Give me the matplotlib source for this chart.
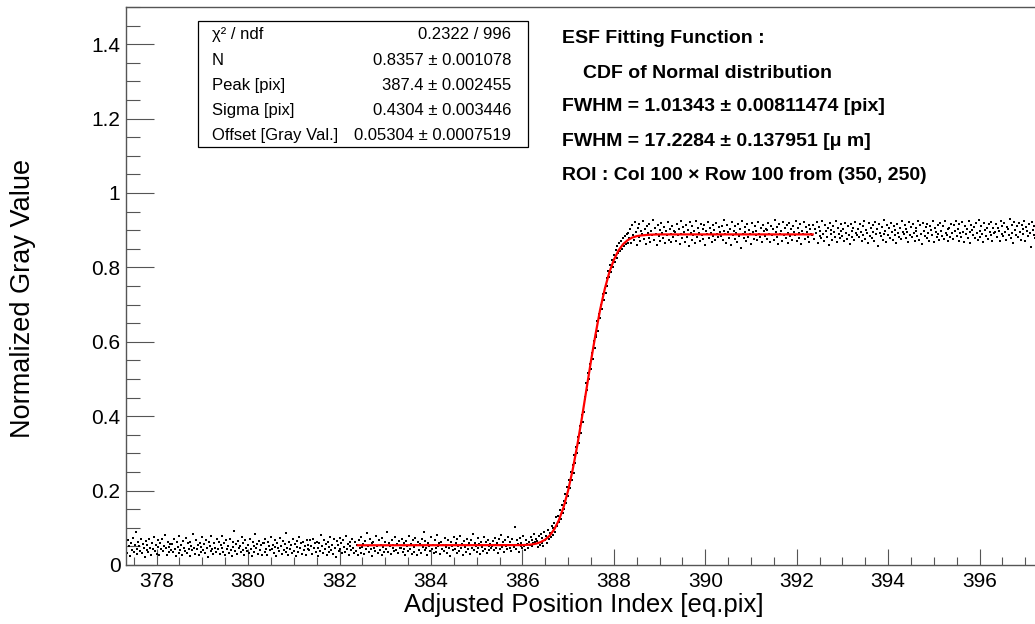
import numpy as np
import matplotlib
matplotlib.use("Agg")
import matplotlib.pyplot as plt
from matplotlib.patches import Rectangle
from matplotlib.ticker import MultipleLocator

plt.rcParams["font.family"] = ["Liberation Sans", "DejaVu Sans"]

# ==============================
# data
# ==============================
# ESF samples: one row per pixel unit, gray values in thousandths,
# sampled every 0.02 eq.pix starting at 377.34
pos_first = 377.34
pos_step = 0.02
gray_milli = [
    [48, 31, 67, 52, 24, 58, 41, 73, 36, 55, 88, 44, 29, 62, 50, 38, 71, 33, 57, 46, 22, 64, 40, 53, 35, 69, 47, 27, 60, 43, 76, 38, 55, 30, 66, 49, 26, 59, 42, 71, 37, 52, 81, 45, 28, 63, 48, 34, 57, 41],
    [56, 36, 70, 43, 25, 61, 49, 33, 78, 40, 54, 28, 65, 47, 37, 72, 31, 58, 44, 23, 63, 51, 39, 84, 46, 30, 68, 42, 55, 26, 60, 48, 35, 74, 39, 57, 32, 66, 45, 22, 62, 50, 38, 77, 43, 29, 59, 47, 34, 69],
    [42, 63, 30, 55, 47, 79, 36, 58, 27, 66, 44, 52, 33, 71, 40, 25, 61, 48, 92, 37, 56, 29, 64, 45, 51, 34, 74, 41, 59, 28, 67, 46, 38, 55, 31, 70, 43, 24, 62, 50, 36, 83, 47, 57, 30, 65, 41, 53, 26, 60],
    [58, 35, 69, 44, 28, 62, 50, 39, 76, 42, 55, 31, 67, 48, 23, 60, 45, 37, 73, 52, 29, 64, 41, 56, 34, 86, 47, 27, 61, 43, 53, 32, 70, 38, 57, 25, 65, 49, 36, 74, 46, 58, 30, 63, 40, 51, 27, 68, 44, 55],
    [40, 66, 52, 29, 71, 45, 58, 34, 63, 47, 24, 60, 38, 80, 51, 33, 67, 43, 56, 28, 62, 49, 36, 75, 41, 54, 30, 69, 46, 22, 64, 53, 37, 72, 44, 59, 31, 66, 48, 35, 78, 42, 57, 26, 61, 50, 39, 70, 45, 33],
    [61, 38, 54, 27, 68, 46, 33, 75, 49, 57, 30, 64, 42, 86, 51, 35, 70, 44, 59, 25, 63, 47, 38, 77, 52, 31, 66, 40, 55, 28, 72, 48, 36, 61, 43, 90, 34, 58, 50, 29, 67, 45, 53, 37, 74, 41, 56, 32, 65, 47],
    [46, 70, 35, 59, 43, 27, 65, 51, 38, 79, 44, 56, 30, 68, 48, 36, 73, 53, 26, 62, 41, 57, 33, 71, 49, 90, 39, 64, 45, 28, 60, 52, 37, 76, 43, 55, 31, 67, 47, 34, 81, 50, 58, 29, 63, 44, 53, 38, 72, 49],
    [55, 33, 67, 47, 25, 62, 52, 40, 74, 44, 59, 31, 69, 50, 37, 78, 45, 57, 28, 64, 48, 35, 71, 53, 42, 60, 30, 66, 46, 83, 39, 58, 51, 34, 73, 47, 56, 29, 63, 49, 38, 76, 43, 61, 32, 68, 52, 41, 57, 45],
    [50, 64, 39, 72, 47, 58, 33, 69, 53, 44, 80, 48, 61, 36, 66, 51, 42, 75, 55, 46, 62, 38, 70, 54, 49, 101, 43, 67, 57, 35, 73, 50, 60, 45, 78, 52, 41, 68, 56, 47, 63, 55, 74, 50, 66, 59, 84, 61, 70, 64],
    [48, 78, 55, 84, 60, 73, 51, 88, 66, 79, 58, 95, 70, 86, 74, 104, 81, 99, 112, 90, 128, 104, 133, 115, 147, 124, 160, 139, 172, 151, 190, 168, 210, 186, 228, 207, 251, 229, 270, 248, 296, 273, 318, 301, 345, 329, 373, 356, 402, 385],
    [411, 452, 447, 489, 470, 515, 499, 541, 526, 570, 553, 601, 584, 618, 612, 655, 630, 676, 664, 700, 689, 728, 712, 745, 731, 772, 751, 790, 774, 806, 788, 819, 801, 833, 814, 846, 826, 857, 838, 865, 843, 871, 850, 879, 857, 884, 862, 889, 866, 892],
    [879, 902, 866, 913, 888, 874, 921, 895, 860, 907, 883, 918, 870, 897, 889, 925, 876, 904, 863, 911, 892, 880, 916, 868, 899, 886, 928, 873, 905, 891, 861, 914, 884, 900, 871, 920, 893, 878, 909, 865, 897, 887, 923, 875, 903, 890, 868, 912, 881, 899],
    [895, 871, 917, 886, 903, 862, 924, 890, 878, 909, 896, 869, 915, 883, 901, 857, 921, 892, 874, 911, 887, 899, 866, 926, 881, 905, 893, 870, 918, 886, 902, 876, 913, 860, 897, 889, 922, 879, 906, 892, 868, 915, 884, 900, 873, 919, 891, 883, 908, 895],
    [884, 910, 873, 899, 927, 889, 866, 915, 894, 880, 904, 861, 921, 887, 898, 876, 912, 893, 869, 918, 885, 903, 852, 925, 890, 878, 909, 896, 870, 916, 882, 901, 889, 864, 920, 894, 877, 911, 886, 899, 873, 923, 891, 881, 907, 867, 914, 897, 885, 902],
    [900, 877, 919, 891, 868, 912, 886, 903, 874, 928, 894, 881, 908, 863, 917, 890, 899, 872, 922, 887, 905, 879, 914, 893, 866, 920, 884, 902, 875, 911, 896, 888, 925, 870, 906, 892, 880, 916, 863, 898, 889, 921, 876, 909, 895, 883, 913, 869, 902, 890],
    [887, 913, 876, 902, 893, 921, 866, 908, 884, 899, 878, 926, 891, 870, 915, 897, 882, 905, 860, 919, 889, 901, 874, 912, 895, 881, 924, 868, 907, 890, 879, 916, 898, 885, 903, 872, 920, 893, 877, 910, 888, 864, 918, 899, 883, 906, 875, 922, 892, 887],
    [903, 881, 916, 894, 870, 911, 887, 925, 876, 900, 892, 865, 919, 884, 906, 879, 913, 896, 871, 921, 889, 902, 858, 917, 893, 884, 909, 874, 927, 890, 899, 868, 914, 886, 905, 880, 920, 895, 873, 911, 888, 901, 866, 918, 892, 883, 907, 877, 924, 896],
    [890, 915, 878, 904, 896, 869, 922, 887, 909, 881, 917, 893, 872, 906, 899, 884, 926, 875, 913, 890, 862, 920, 897, 885, 908, 879, 918, 893, 870, 911, 901, 886, 924, 867, 906, 894, 881, 915, 889, 873, 919, 898, 884, 910, 876, 925, 892, 887, 903, 871],
    [906, 883, 918, 893, 877, 913, 899, 926, 885, 904, 871, 916, 892, 881, 921, 896, 868, 910, 889, 903, 878, 924, 894, 865, 915, 900, 886, 909, 880, 919, 892, 874, 927, 897, 883, 912, 889, 868, 920, 901, 885, 907, 876, 917, 895, 888, 923, 870, 905, 893],
    [894, 918, 881, 906, 899, 872, 925, 890, 911, 884, 920, 896, 875, 909, 902, 887, 929, 878, 915, 893, 865, 922, 900, 888, 910, 882, 919, 896, 873, 913, 904, 889, 926, 870, 908, 897, 884, 918, 892, 855, 921, 901, 887, 912, 879, 927, 895, 890, 906, 874],
]

# fitted ESF curve (red line)
fit_x = [382.4, 386.0, 386.1, 386.2, 386.3, 386.4, 386.5, 386.6, 386.7, 386.8, 386.9,
         387.0, 387.1, 387.2, 387.3, 387.4, 387.5, 387.6, 387.7, 387.8, 387.9,
         388.0, 388.1, 388.2, 388.3, 388.4, 388.5, 388.6, 388.8, 389.0, 392.35]
fit_y = [0.053, 0.0535, 0.0541, 0.0552, 0.0574, 0.0615, 0.0683, 0.0793, 0.0965, 0.121, 0.155,
         0.200, 0.256, 0.321, 0.394, 0.471, 0.548, 0.620, 0.686, 0.741, 0.786,
         0.820, 0.845, 0.862, 0.873, 0.880, 0.884, 0.886, 0.888, 0.8887, 0.8887]

stat_names = ["\u03c7\u00b2 / ndf", "N", "Peak [pix]", "Sigma [pix]", "Offset [Gray Val.]"]
stat_values = ["0.2322 / 996", "0.8357 \u00b1 0.001078", "387.4 \u00b1 0.002455",
               "0.4304 \u00b1 0.003446", "0.05304 \u00b1 0.0007519"]

info_lines = ["ESF Fitting Function :",
              "CDF of Normal distribution",
              "FWHM = 1.01343 \u00b1 0.00811474 [pix]",
              "FWHM = 17.2284 \u00b1 0.137951 [\u03bc m]",
              "ROI : Col 100 \u00d7 Row 100 from (350, 250)"]

# ==============================
# figure
# ==============================
W, H = 1035, 624
fig = plt.figure(figsize=(W / 100, H / 100), dpi=100)


def fx(px):
    return px / W


def fy(py):
    return 1 - py / H


ax = fig.add_axes([fx(126), fy(565), fx(913), 558 / H])

gray = np.concatenate([np.array(r, dtype=float) for r in gray_milli]) / 1000.0
pos = pos_first + pos_step * np.arange(len(gray))

ax.plot(pos, gray, linestyle="none", marker="s", ms=1.8, mew=0, color="black", zorder=2)
ax.plot(fit_x, fit_y, color="red", lw=1.6, zorder=3)

ax.set_xlim(377.33, 397.3)
ax.set_ylim(0, 1.5)

ax.xaxis.set_major_locator(MultipleLocator(2))
ax.xaxis.set_minor_locator(MultipleLocator(0.5))
ax.yaxis.set_major_locator(MultipleLocator(0.2))
ax.yaxis.set_minor_locator(MultipleLocator(0.05))
ax.yaxis.set_major_formatter(plt.FuncFormatter(lambda v, p: "%g" % round(v, 2)))

axis_col = "#555555"
for s in ax.spines.values():
    s.set_color(axis_col)
    s.set_linewidth(1.0)
ax.tick_params(axis="x", which="major", direction="in", length=11.5, width=0.8,
               color=axis_col, labelsize=15, pad=5)
ax.tick_params(axis="x", which="minor", direction="in", length=5.8, width=0.8, color=axis_col)
ax.tick_params(axis="y", which="major", direction="in", length=20, width=0.8,
               color=axis_col, labelsize=15, pad=4)
ax.tick_params(axis="y", which="minor", direction="in", length=10, width=0.8, color=axis_col)

fig.text(fx(584), fy(612), "Adjusted Position Index [eq.pix]", fontsize=18.5,
         ha="center", va="baseline")
fig.text(fx(23), fy(298), "Normalized Gray Value", fontsize=19.5,
         rotation=90, ha="center", va="center")

# stats box
fig.patches.append(Rectangle((fx(198), fy(147)), fx(330), 126 / H, transform=fig.transFigure,
                             fill=True, facecolor="white", edgecolor="black", lw=0.9, zorder=5))
stat_base = [39, 65, 90, 115, 140]
for name, val, b in zip(stat_names, stat_values, stat_base):
    fig.text(fx(212), fy(b), name, fontsize=12, ha="left", va="baseline", zorder=6)
    fig.text(fx(511), fy(b), val, fontsize=12, ha="right", va="baseline", zorder=6)

info_left = [562, 583, 562, 562, 562]
info_base = [43, 78, 111, 146, 180]
for line, lx, b in zip(info_lines, info_left, info_base):
    fig.text(fx(lx), fy(b), line, fontsize=14, fontweight="bold", ha="left", va="baseline")

fig.savefig("out.png", dpi=100)
